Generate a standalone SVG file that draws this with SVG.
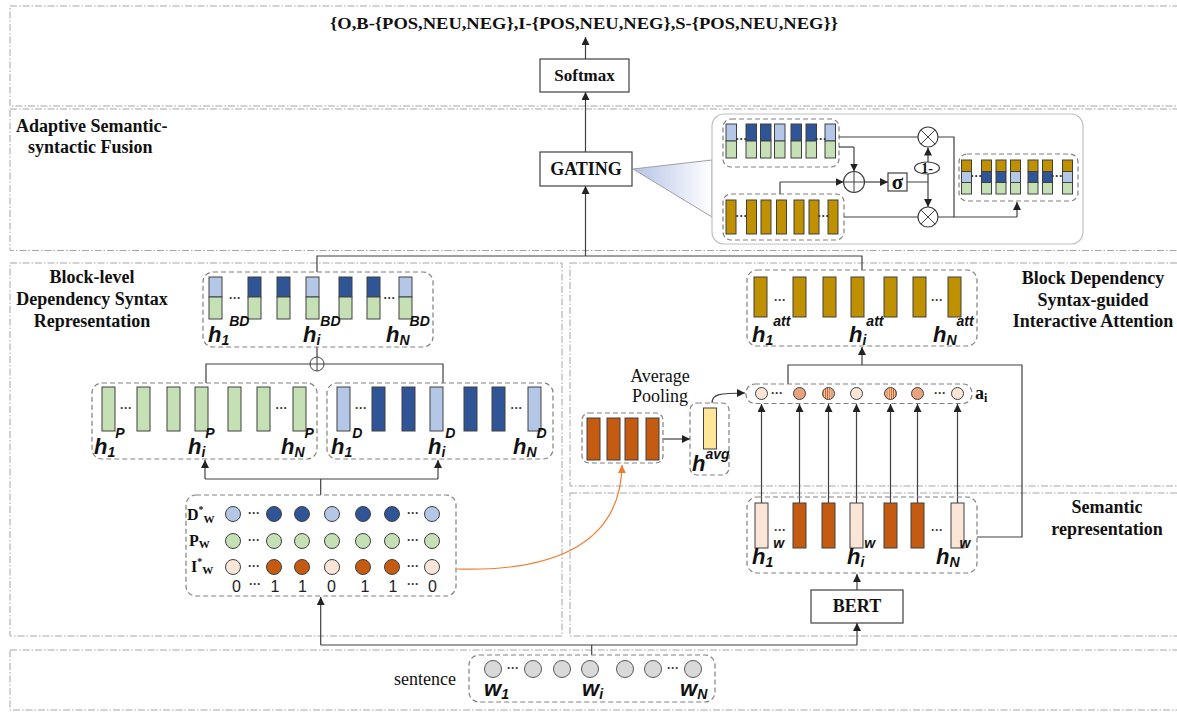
<svg xmlns="http://www.w3.org/2000/svg" width="1177" height="712" viewBox="0 0 1177 712">
<defs>
<style>
.panel{fill:none;stroke:#a6a6a6;stroke-width:1;stroke-dasharray:7 2 1.5 2}
.grp{fill:none;stroke:#808080;stroke-width:1.2;stroke-dasharray:5 3}
.box{fill:#fff;stroke:#404040;stroke-width:1.2}
.ln{fill:none;stroke:#404040;stroke-width:1.2}
.arr{fill:none;stroke:#404040;stroke-width:1.2;marker-end:url(#ah)}
.L{fill:#b4c7e7;stroke:#404040;stroke-width:1}
.D{fill:#2f5597;stroke:#404040;stroke-width:1}
.G{fill:#c5e0b4;stroke:#404040;stroke-width:1}
.Y{fill:#bf9000;stroke:#404040;stroke-width:1}
.O{fill:#c55a11;stroke:#404040;stroke-width:1}
.P{fill:#fbe5d6;stroke:#404040;stroke-width:1}
.M{fill:#e9a27c;stroke:#404040;stroke-width:1}
.S{fill:url(#stripe);stroke:#404040;stroke-width:1}
.W{fill:#d9d9d9;stroke:#595959;stroke-width:1}
.bs{font-family:"Liberation Serif",serif;font-weight:bold;fill:#111}
.rs{font-family:"Liberation Serif",serif;fill:#111}
.h{font-family:"Liberation Sans",Arial,sans-serif;font-style:italic;font-weight:bold;font-size:22px;fill:#111}
.sb{font-size:14px}
.sp{font-size:14px}
.dots{font-family:"Liberation Sans",Arial,sans-serif;font-weight:bold;font-size:12px;fill:#333;text-anchor:middle}
.num{font-family:"Liberation Sans",Arial,sans-serif;font-size:16px;fill:#222;text-anchor:middle}
</style>
<marker id="ah" viewBox="0 0 10 10" refX="10" refY="5" markerWidth="8" markerHeight="8" markerUnits="userSpaceOnUse" orient="auto"><path d="M0,0 L10,5 L0,10 z" fill="#222"/></marker>
<marker id="aho" viewBox="0 0 10 10" refX="10" refY="5" markerWidth="8" markerHeight="8" markerUnits="userSpaceOnUse" orient="auto"><path d="M0,0 L10,5 L0,10 z" fill="#ed7d31"/></marker>
<pattern id="stripe" width="2.2" height="4" patternUnits="userSpaceOnUse"><rect width="2.2" height="4" fill="#f4c7a8"/><rect width="0.8" height="4" fill="#c55a11"/></pattern>
<linearGradient id="cg" x1="0" y1="0" x2="1" y2="0"><stop offset="0" stop-color="#b4c3e6"/><stop offset="1" stop-color="#ffffff"/></linearGradient>
</defs>
<rect width="1177" height="712" fill="#fff"/>

<g id="panels">
<rect class="panel" x="10" y="6" width="1175" height="100"/>
<rect class="panel" x="10" y="109" width="1175" height="141.5"/>
<rect class="panel" x="10" y="263" width="552" height="373"/>
<rect class="panel" x="570" y="263" width="615" height="223"/>
<rect class="panel" x="570" y="493" width="615" height="143"/>
<rect class="panel" x="10" y="650" width="1175" height="60"/>
</g>

<g id="connectors">
<line class="arr" x1="585.5" y1="59" x2="585.5" y2="37"/>
<line class="arr" x1="585.5" y1="152" x2="585.5" y2="92"/>
<line class="arr" x1="585.5" y1="256" x2="585.5" y2="186"/>
<polyline class="ln" points="317,272 317,256 862,256 862,270"/>
<line class="ln" x1="317" y1="347" x2="317" y2="357"/>
<polyline class="ln" points="206,383 206,364 310,364"/>
<polyline class="ln" points="324,364 443,364 443,383"/>
<line class="ln" x1="320.7" y1="495" x2="320.7" y2="479"/>
<line class="ln" x1="205" y1="479" x2="438" y2="479"/>
<line class="arr" x1="205" y1="479" x2="205" y2="460"/>
<line class="arr" x1="438" y1="479" x2="438" y2="460"/>
<line class="ln" x1="591.7" y1="655" x2="591.7" y2="645"/>
<line class="ln" x1="320.7" y1="645" x2="857" y2="645"/>
<line class="arr" x1="320.7" y1="645" x2="320.7" y2="597"/>
<line class="arr" x1="857" y1="645" x2="857" y2="623"/>
<line class="arr" x1="857" y1="590" x2="857" y2="574"/>
<polyline class="ln" points="977,537 1022,537 1022,365 788,365 788,384"/>
<line class="arr" x1="862" y1="365" x2="862" y2="347"/>
<line class="arr" x1="761.5" y1="503" x2="761.5" y2="404"/>
<line class="arr" x1="799.5" y1="503" x2="799.5" y2="404"/>
<line class="arr" x1="828.5" y1="503" x2="828.5" y2="404"/>
<line class="arr" x1="856.5" y1="503" x2="856.5" y2="404"/>
<line class="arr" x1="890.5" y1="503" x2="890.5" y2="404"/>
<line class="arr" x1="917.5" y1="503" x2="917.5" y2="404"/>
<line class="arr" x1="957.5" y1="503" x2="957.5" y2="404"/>
<line class="arr" x1="663" y1="439" x2="690" y2="439"/>
<path class="arr" d="M712,403 C712,394 720,393 745,393"/>
<path d="M457,569 C560,572 621,540 622,465" fill="none" stroke="#ed7d31" stroke-width="1.2" marker-end="url(#aho)"/>
</g>

<g id="node-output">
<text class="bs" x="584" y="29" font-size="17" text-anchor="middle" textLength="508" lengthAdjust="spacingAndGlyphs">{O,B-{POS,NEU,NEG},I-{POS,NEU,NEG},S-{POS,NEU,NEG}}</text>
</g>

<g id="node-softmax">
<rect class="box" x="540" y="59" width="89" height="33"/>
<text class="bs" x="584.5" y="81" font-size="17" text-anchor="middle">Softmax</text>
</g>

<g id="node-fusion-label">
<text class="bs" x="16" y="131.5" font-size="18">Adaptive Semantic-</text>
<text class="bs" x="28" y="153" font-size="18">syntactic Fusion</text>
</g>

<g id="node-gating">
<rect class="box" x="540" y="152" width="92" height="34"/>
<text class="bs" x="586" y="175" font-size="18" text-anchor="middle">GATING</text>
</g>

<g id="node-gating-detail">
<polygon points="633,169 712,160 712,217" fill="url(#cg)" stroke="#a0a0a0" stroke-width="1"/>
<rect x="712" y="114" width="371" height="130" rx="12" fill="#fff" stroke="#bfbfbf" stroke-width="1.2"/>
<rect class="grp" x="723" y="119" width="116" height="48" rx="8"/>
<rect class="L" x="726" y="124" width="10.5" height="17"/><rect class="G" x="726" y="141" width="10.5" height="17"/>
<rect class="D" x="746" y="124" width="10.5" height="17"/><rect class="G" x="746" y="141" width="10.5" height="17"/>
<rect class="D" x="760.5" y="124" width="10.5" height="17"/><rect class="G" x="760.5" y="141" width="10.5" height="17"/>
<rect class="L" x="774.5" y="124" width="10.5" height="17"/><rect class="G" x="774.5" y="141" width="10.5" height="17"/>
<rect class="D" x="791" y="124" width="10.5" height="17"/><rect class="G" x="791" y="141" width="10.5" height="17"/>
<rect class="D" x="806" y="124" width="10.5" height="17"/><rect class="G" x="806" y="141" width="10.5" height="17"/>
<rect class="L" x="825" y="124" width="10.5" height="17"/><rect class="G" x="825" y="141" width="10.5" height="17"/>
<text class="dots" x="741.5" y="143" font-size="9">···</text>
<text class="dots" x="821" y="143" font-size="9">···</text>
<rect class="grp" x="723" y="194" width="121" height="46" rx="8"/>
<rect class="Y" x="726" y="200" width="10" height="34"/>
<rect class="Y" x="746.5" y="200" width="10" height="34"/>
<rect class="Y" x="761" y="200" width="10" height="34"/>
<rect class="Y" x="776.5" y="200" width="10" height="34"/>
<rect class="Y" x="794" y="200" width="10" height="34"/>
<rect class="Y" x="809" y="200" width="10" height="34"/>
<rect class="Y" x="828" y="200" width="10" height="34"/>
<text class="dots" x="741.5" y="220" font-size="9">···</text>
<text class="dots" x="823.5" y="220" font-size="9">···</text>
<polyline class="ln" points="839,147 854,147"/>
<line class="arr" x1="854" y1="147" x2="854" y2="171.5"/>
<line class="ln" x1="839" y1="137" x2="918" y2="137"/>
<polyline class="ln" points="780,194 780,182"/>
<line class="arr" x1="780" y1="182" x2="843.5" y2="182"/>
<circle cx="854" cy="182" r="10.5" fill="#fff" stroke="#404040" stroke-width="1.2"/>
<path d="M843.5,182 H864.5 M854,171.5 V192.5" stroke="#404040" stroke-width="1"/>
<line class="arr" x1="864.5" y1="182" x2="888" y2="182"/>
<rect class="box" x="888" y="173" width="19" height="18"/>
<text class="bs" x="897.5" y="189" font-size="21" text-anchor="middle">σ</text>
<polyline class="ln" points="907,182 928,182 928,174"/>
<line class="arr" x1="928" y1="182" x2="928" y2="207"/>
<line class="arr" x1="928" y1="162" x2="928" y2="147.5"/>
<ellipse cx="927" cy="168" rx="12.5" ry="6" fill="#fff" stroke="#404040" stroke-width="1.2"/>
<text class="bs" x="927" y="173" font-size="14" text-anchor="middle">1-</text>
<circle cx="928" cy="137" r="10" fill="#fff" stroke="#404040" stroke-width="1.2"/>
<path d="M921,130 L935,144 M935,130 L921,144" stroke="#404040" stroke-width="1"/>
<circle cx="928" cy="217" r="10" fill="#fff" stroke="#404040" stroke-width="1.2"/>
<path d="M921,210 L935,224 M935,210 L921,224" stroke="#404040" stroke-width="1"/>
<line class="ln" x1="844" y1="217" x2="918" y2="217"/>
<polyline class="ln" points="938,137 954,137 954,217"/>
<polyline class="ln" points="938,217 1017,217"/>
<line class="arr" x1="1017" y1="217" x2="1017" y2="202"/>
<rect class="grp" x="959" y="154" width="119" height="47" rx="8"/>
<g>
<rect class="Y" x="961.5" y="160" width="10" height="11.5"/><rect class="L" x="961.5" y="171.5" width="10" height="11"/><rect class="G" x="961.5" y="182.5" width="10" height="11.5"/>
<rect class="Y" x="981.5" y="160" width="10" height="11.5"/><rect class="D" x="981.5" y="171.5" width="10" height="11"/><rect class="G" x="981.5" y="182.5" width="10" height="11.5"/>
<rect class="Y" x="996" y="160" width="10" height="11.5"/><rect class="D" x="996" y="171.5" width="10" height="11"/><rect class="G" x="996" y="182.5" width="10" height="11.5"/>
<rect class="Y" x="1010.5" y="160" width="10" height="11.5"/><rect class="L" x="1010.5" y="171.5" width="10" height="11"/><rect class="G" x="1010.5" y="182.5" width="10" height="11.5"/>
<rect class="Y" x="1028" y="160" width="10" height="11.5"/><rect class="D" x="1028" y="171.5" width="10" height="11"/><rect class="G" x="1028" y="182.5" width="10" height="11.5"/>
<rect class="Y" x="1042.5" y="160" width="10" height="11.5"/><rect class="D" x="1042.5" y="171.5" width="10" height="11"/><rect class="G" x="1042.5" y="182.5" width="10" height="11.5"/>
<rect class="Y" x="1062.5" y="160" width="10" height="11.5"/><rect class="L" x="1062.5" y="171.5" width="10" height="11"/><rect class="G" x="1062.5" y="182.5" width="10" height="11.5"/>
</g>
<text class="dots" x="976.5" y="180" font-size="9">···</text>
<text class="dots" x="1057" y="180" font-size="9">···</text>
</g>

<g id="node-left-label">
<text class="bs" x="92" y="283" font-size="18" text-anchor="middle">Block-level</text>
<text class="bs" x="92" y="305" font-size="18" text-anchor="middle">Dependency Syntax</text>
<text class="bs" x="92" y="327" font-size="18" text-anchor="middle">Representation</text>
</g>

<g id="node-hBD">
<rect class="grp" x="203" y="272" width="230" height="75" rx="10"/>
<rect class="L" x="209" y="277" width="13" height="20"/><rect class="G" x="209" y="297" width="13" height="22"/>
<rect class="D" x="248" y="277" width="13" height="20"/><rect class="G" x="248" y="297" width="13" height="22"/>
<rect class="D" x="277" y="277" width="13" height="20"/><rect class="G" x="277" y="297" width="13" height="22"/>
<rect class="L" x="306" y="277" width="13" height="20"/><rect class="G" x="306" y="297" width="13" height="22"/>
<rect class="D" x="339" y="277" width="13" height="20"/><rect class="G" x="339" y="297" width="13" height="22"/>
<rect class="D" x="367" y="277" width="13" height="20"/><rect class="G" x="367" y="297" width="13" height="22"/>
<rect class="L" x="399" y="277" width="13" height="20"/><rect class="G" x="399" y="297" width="13" height="22"/>
<text class="dots" x="235" y="302">···</text>
<text class="dots" x="389.5" y="302">···</text>
<text class="h" x="208" y="342">h<tspan class="sb" dy="3">1</tspan><tspan class="sp" dy="-19">BD</tspan></text>
<text class="h" x="303" y="342">h<tspan class="sb" dy="3">i</tspan><tspan class="sp" dy="-19">BD</tspan></text>
<text class="h" x="386" y="342">h<tspan class="sb" dy="3">N</tspan><tspan class="sp" dy="-19">BD</tspan></text>
</g>

<g id="node-oplus">
<circle cx="317" cy="364" r="7" fill="#fff" stroke="#404040" stroke-width="1"/>
<path d="M310,364 H324 M317,357 V371" stroke="#404040" stroke-width="1"/>
</g>

<g id="node-hP">
<rect class="grp" x="92" y="383" width="225" height="76" rx="10"/>
<rect class="G" x="102" y="387" width="13" height="44"/>
<rect class="G" x="137" y="387" width="13" height="44"/>
<rect class="G" x="167" y="387" width="13" height="44"/>
<rect class="G" x="195" y="387" width="13" height="44"/>
<rect class="G" x="228" y="387" width="13" height="44"/>
<rect class="G" x="257" y="387" width="13" height="44"/>
<rect class="G" x="293" y="387" width="13" height="44"/>
<text class="dots" x="126" y="412">···</text>
<text class="dots" x="281.5" y="412">···</text>
<text class="h" x="94" y="454">h<tspan class="sb" dy="3">1</tspan><tspan class="sp" dy="-19">P</tspan></text>
<text class="h" x="188" y="454">h<tspan class="sb" dy="3">i</tspan><tspan class="sp" dy="-19">P</tspan></text>
<text class="h" x="281" y="454">h<tspan class="sb" dy="3">N</tspan><tspan class="sp" dy="-19">P</tspan></text>
</g>

<g id="node-hD">
<rect class="grp" x="327" y="383" width="226" height="76" rx="10"/>
<rect class="L" x="337" y="387" width="13" height="44"/>
<rect class="D" x="372" y="387" width="13" height="44"/>
<rect class="D" x="402" y="387" width="13" height="44"/>
<rect class="L" x="430" y="387" width="13" height="44"/>
<rect class="D" x="464" y="387" width="13" height="44"/>
<rect class="D" x="492" y="387" width="13" height="44"/>
<rect class="L" x="528" y="387" width="13" height="44"/>
<text class="dots" x="361" y="412">···</text>
<text class="dots" x="516.5" y="412">···</text>
<text class="h" x="331" y="454">h<tspan class="sb" dy="3">1</tspan><tspan class="sp" dy="-19">D</tspan></text>
<text class="h" x="428" y="454">h<tspan class="sb" dy="3">i</tspan><tspan class="sp" dy="-19">D</tspan></text>
<text class="h" x="513" y="454">h<tspan class="sb" dy="3">N</tspan><tspan class="sp" dy="-19">D</tspan></text>
</g>

<g id="node-embedding">
<rect class="grp" x="186" y="495" width="270" height="101" rx="10"/>
<text class="bs" x="187" y="519.5" font-size="16">D<tspan font-size="10" dy="-7">*</tspan><tspan font-size="11" dy="10">W</tspan></text>
<text class="bs" x="189" y="545.5" font-size="16">P<tspan font-size="11" dy="2">W</tspan></text>
<text class="bs" x="191" y="572" font-size="16">I<tspan font-size="10" dy="-7">*</tspan><tspan font-size="11" dy="9">W</tspan></text>
<circle class="L" cx="233" cy="514" r="7.5"/><circle class="D" cx="274" cy="514" r="7.5"/><circle class="D" cx="302" cy="514" r="7.5"/><circle class="L" cx="332" cy="514" r="7.5"/><circle class="D" cx="363" cy="514" r="7.5"/><circle class="D" cx="392" cy="514" r="7.5"/><circle class="L" cx="432" cy="514" r="7.5"/>
<circle class="G" cx="233" cy="541" r="7.5"/><circle class="G" cx="274" cy="541" r="7.5"/><circle class="G" cx="302" cy="541" r="7.5"/><circle class="G" cx="332" cy="541" r="7.5"/><circle class="G" cx="363" cy="541" r="7.5"/><circle class="G" cx="392" cy="541" r="7.5"/><circle class="G" cx="432" cy="541" r="7.5"/>
<circle class="P" cx="233" cy="567" r="7.5"/><circle class="O" cx="274" cy="567" r="7.5"/><circle class="O" cx="302" cy="567" r="7.5"/><circle class="P" cx="332" cy="567" r="7.5"/><circle class="O" cx="363" cy="567" r="7.5"/><circle class="O" cx="392" cy="567" r="7.5"/><circle class="P" cx="432" cy="567" r="7.5"/>
<text class="dots" x="254" y="517">···</text><text class="dots" x="413" y="517">···</text>
<text class="dots" x="254" y="544">···</text><text class="dots" x="413" y="544">···</text>
<text class="dots" x="254" y="570">···</text><text class="dots" x="413" y="570">···</text>
<text class="num" x="236.5" y="592">0</text>
<text class="dots" x="255" y="588">···</text>
<text class="num" x="275" y="592">1</text>
<text class="num" x="302.5" y="592">1</text>
<text class="num" x="331.5" y="592">0</text>
<text class="num" x="365" y="592">1</text>
<text class="num" x="393" y="592">1</text>
<text class="dots" x="413" y="588">···</text>
<text class="num" x="432.5" y="592">0</text>
</g>

<g id="node-right-label">
<text class="bs" x="1093" y="283.5" font-size="18" text-anchor="middle">Block Dependency</text>
<text class="bs" x="1093" y="305.5" font-size="18" text-anchor="middle">Syntax-guided</text>
<text class="bs" x="1093" y="327" font-size="18" text-anchor="middle">Interactive Attention</text>
</g>

<g id="node-hatt">
<rect class="grp" x="747" y="270" width="230" height="76" rx="10"/>
<rect class="Y" x="754" y="277" width="13" height="40"/>
<rect class="Y" x="793" y="277" width="13" height="40"/>
<rect class="Y" x="823" y="277" width="13" height="40"/>
<rect class="Y" x="851" y="277" width="13" height="40"/>
<rect class="Y" x="884" y="277" width="13" height="40"/>
<rect class="Y" x="913" y="277" width="13" height="40"/>
<rect class="Y" x="948" y="277" width="13" height="40"/>
<text class="dots" x="780" y="304">···</text>
<text class="dots" x="937" y="304">···</text>
<text class="h" x="752" y="342">h<tspan class="sb" dy="3">1</tspan><tspan class="sp" dy="-19">att</tspan></text>
<text class="h" x="849" y="342">h<tspan class="sb" dy="3">i</tspan><tspan class="sp" dy="-19">att</tspan></text>
<text class="h" x="933" y="342">h<tspan class="sb" dy="3">N</tspan><tspan class="sp" dy="-19">att</tspan></text>
</g>

<g id="node-avgpool">
<text class="rs" x="660" y="381.5" font-size="18" text-anchor="middle">Average</text>
<text class="rs" x="660" y="402" font-size="18" text-anchor="middle">Pooling</text>
<rect class="grp" x="582" y="413" width="81" height="50" rx="7"/>
<rect class="O" x="587" y="418" width="13" height="42"/>
<rect class="O" x="607" y="418" width="13" height="42"/>
<rect class="O" x="625" y="418" width="13" height="42"/>
<rect class="O" x="646" y="418" width="13" height="42"/>
</g>

<g id="node-havg">
<rect class="grp" x="690" y="403" width="39" height="72" rx="7"/>
<rect x="703.5" y="408" width="13" height="41" fill="#ffe699" stroke="#404040" stroke-width="1"/>
<text class="h" x="692" y="471">h<tspan class="sp" dy="-12">avg</tspan></text>
</g>

<g id="node-ai">
<rect class="grp" x="746" y="384" width="226" height="19.5" rx="9"/>
<circle class="P" cx="761.5" cy="393.5" r="6"/>
<circle class="M" cx="799.5" cy="393.5" r="6"/>
<circle class="S" cx="828.5" cy="393.5" r="6"/>
<circle class="P" cx="856.5" cy="393.5" r="6"/>
<circle class="S" cx="890.5" cy="393.5" r="6"/>
<circle class="M" cx="917.5" cy="393.5" r="6"/>
<circle class="P" cx="957.5" cy="393.5" r="6"/>
<text class="dots" x="777" y="397">···</text>
<text class="dots" x="940" y="397">···</text>
<text class="bs" x="975" y="399" font-size="18">a<tspan font-size="12" dy="3">i</tspan></text>
</g>

<g id="node-semantic-label">
<text class="bs" x="1107" y="513" font-size="18" text-anchor="middle">Semantic</text>
<text class="bs" x="1107" y="534.5" font-size="18" text-anchor="middle">representation</text>
</g>

<g id="node-hw">
<rect class="grp" x="747" y="497" width="230" height="76" rx="10"/>
<rect class="P" x="755" y="503" width="13" height="45"/>
<rect class="O" x="793" y="503" width="13" height="45"/>
<rect class="O" x="822" y="503" width="13" height="45"/>
<rect class="P" x="850" y="503" width="13" height="45"/>
<rect class="O" x="884" y="503" width="13" height="45"/>
<rect class="O" x="911" y="503" width="13" height="45"/>
<rect class="P" x="951" y="503" width="13" height="45"/>
<text class="dots" x="780" y="534">···</text>
<text class="dots" x="937" y="534">···</text>
<text class="h" x="752" y="564">h<tspan class="sb" dy="3">1</tspan><tspan class="sp" dy="-19">w</tspan></text>
<text class="h" x="847" y="564">h<tspan class="sb" dy="3">i</tspan><tspan class="sp" dy="-19">w</tspan></text>
<text class="h" x="936" y="564">h<tspan class="sb" dy="3">N</tspan><tspan class="sp" dy="-19">w</tspan></text>
</g>

<g id="node-bert">
<rect class="box" x="811" y="590" width="92" height="33"/>
<text class="bs" x="857" y="612" font-size="18" text-anchor="middle">BERT</text>
</g>

<g id="node-sentence">
<text class="rs" x="394" y="685" font-size="18">sentence</text>
<rect class="grp" x="469" y="655" width="246" height="47" rx="10"/>
<circle class="W" cx="493" cy="669" r="8.5"/>
<circle class="W" cx="533" cy="669" r="8.5"/>
<circle class="W" cx="562" cy="669" r="8.5"/>
<circle class="W" cx="590" cy="669" r="8.5"/>
<circle class="W" cx="625" cy="669" r="8.5"/>
<circle class="W" cx="653" cy="669" r="8.5"/>
<circle class="W" cx="693" cy="669" r="8.5"/>
<text class="dots" x="513" y="672">···</text>
<text class="dots" x="673" y="672">···</text>
<text class="h" x="484" y="696" font-size="19">w<tspan class="sb" dy="3">1</tspan></text>
<text class="h" x="582" y="696" font-size="19">w<tspan class="sb" dy="3">i</tspan></text>
<text class="h" x="680" y="696" font-size="19">w<tspan class="sb" dy="3">N</tspan></text>
</g>
</svg>
